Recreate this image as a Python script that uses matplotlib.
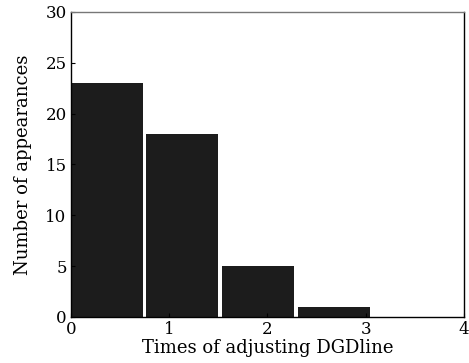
import matplotlib
matplotlib.use("Agg")
import matplotlib.pyplot as plt

# histogram bins (left edges) and counts
bin_left = [0.0, 0.77, 1.54, 2.31, 3.08]
counts = [23, 18, 5, 1, 0]
bar_width = 0.73

plt.rcParams['font.family'] = 'DejaVu Serif'
plt.rcParams['font.size'] = 12

fig = plt.figure(figsize=(4.69, 3.63), dpi=100)
ax = fig.add_axes([0.151, 0.127, 0.838, 0.840])

ax.bar(bin_left, counts, width=bar_width, align='edge', color='#1c1c1c', edgecolor='none')

ax.set_xlim(0, 4)
ax.set_ylim(0, 30)
ax.set_xticks([0, 1, 2, 3, 4])
ax.set_yticks([0, 5, 10, 15, 20, 25, 30])
ax.tick_params(direction='in', length=3, width=0.8, pad=3)
ax.set_xlabel('Times of adjusting DGDline', fontsize=13, labelpad=1)
ax.set_ylabel('Number of appearances', fontsize=13, labelpad=10)

for s in ax.spines.values():
    s.set_linewidth(1.0)
ax.spines['top'].set_color('#777777')

fig.savefig('out.png', dpi=100)
